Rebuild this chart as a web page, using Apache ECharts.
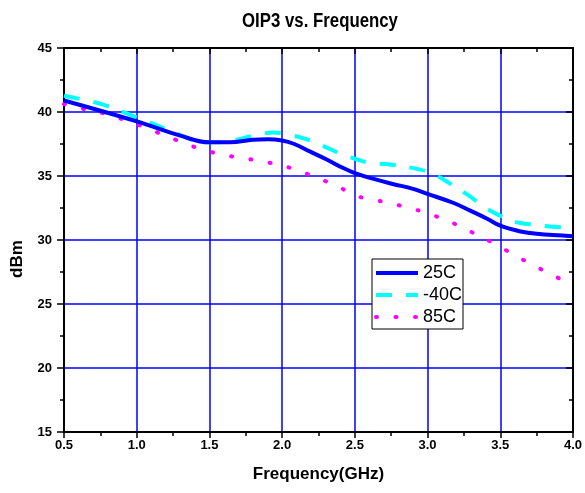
<!DOCTYPE html>
<html>
<head>
<meta charset="utf-8">
<script src="https://cdn.jsdelivr.net/npm/echarts@6/dist/echarts.min.js"></script>
<style>html,body{margin:0;padding:0;background:#fff}#c{width:585px;height:493px}</style>
</head>
<body>
<div id="c"></div>
<script>
var seriesNames = ['25C', '-40C', '85C'];
var freq25 = [0.5, 1.0, 1.3, 1.5, 1.64, 1.8, 1.9, 2.0, 2.08, 2.19, 2.31, 2.42, 2.5, 2.63, 2.76, 2.9, 3.0, 3.18, 3.29, 3.41, 3.5, 3.64, 3.75, 4.0];
var oip25  = [40.9, 39.27, 38.15, 37.63, 37.63, 37.84, 37.88, 37.78, 37.52, 36.92, 36.27, 35.62, 35.23, 34.77, 34.38, 34.0, 33.6, 32.89, 32.31, 31.66, 31.12, 30.67, 30.49, 30.3];
var freqM40 = [0.5, 0.77, 1.0, 1.23, 1.38, 1.49, 1.61, 1.71, 1.83, 1.94, 2.0, 2.06, 2.16, 2.27, 2.39, 2.5, 2.6, 2.74, 2.95, 3.05, 3.17, 3.28, 3.4, 3.5, 3.61, 3.73, 3.84, 4.0];
var oipM40  = [41.27, 40.57, 39.58, 38.54, 37.84, 37.63, 37.63, 37.9, 38.2, 38.4, 38.35, 38.2, 37.9, 37.4, 36.8, 36.35, 36.04, 35.9, 35.5, 35.1, 34.3, 33.5, 32.5, 31.9, 31.4, 31.2, 31.06, 30.95];
var freq85 = [0.5, 0.64, 0.78, 0.91, 1.05, 1.18, 1.31, 1.44, 1.58, 1.71, 1.84, 1.98, 2.11, 2.24, 2.38, 2.51, 2.65, 2.78, 2.91, 3.04, 3.18, 3.31, 3.45, 3.58, 3.71, 3.85, 4.0];
var oip85  = [40.62, 40.23, 39.87, 39.4, 38.83, 38.23, 37.65, 37.11, 36.69, 36.43, 36.19, 35.87, 35.43, 34.86, 34.2, 33.45, 33.1, 32.77, 32.4, 31.93, 31.3, 30.58, 29.77, 28.94, 28.13, 27.32, 26.45];
var xTicks = [0.5, 1.0, 1.5, 2.0, 2.5, 3.0, 3.5, 4.0];
var yTicks = [15, 20, 25, 30, 35, 40, 45];
var titleText = 'OIP3 vs. Frequency';

function pairs(xs, ys) { return xs.map(function (x, i) { return [x, ys[i]]; }); }

var chart = echarts.init(document.getElementById('c'), null, { renderer: 'canvas' });
var gridBlue = '#0000ff';
var boldFont = 'Liberation Sans, Arial, sans-serif';

function xAxisBase(pos, show) {
  return {
    type: 'value', position: pos, min: xTicks[0], max: xTicks[xTicks.length - 1], interval: 0.5,
    axisLine: { show: true, onZero: false, lineStyle: { color: '#000', width: 2 } },
    axisTick: { show: true, inside: pos === 'top', length: 6, lineStyle: { color: '#000', width: 1.5 } },
    minorTick: { show: true, splitNumber: 2, length: 4, lineStyle: { color: '#000', width: 1.5 } },
    axisLabel: { show: show, margin: 7, color: '#000', fontFamily: boldFont, fontWeight: 'bold', fontSize: 13,
      formatter: function (v) { return v.toFixed(1); } },
    splitLine: { show: show, lineStyle: { color: gridBlue, width: 1.5 } },
    name: show ? 'Frequency(GHz)' : '', nameLocation: 'middle', nameGap: 34,
    nameTextStyle: { color: '#000', fontFamily: boldFont, fontWeight: 'bold', fontSize: 17 }
  };
}
function yAxisBase(pos, show) {
  return {
    type: 'value', position: pos, min: yTicks[0], max: yTicks[yTicks.length - 1], interval: 5,
    axisLine: { show: true, onZero: false, lineStyle: { color: '#000', width: 2 } },
    axisTick: { show: true, inside: pos === 'right', length: 7, lineStyle: { color: '#000', width: 1.5 } },
    minorTick: { show: true, splitNumber: 2, length: 4, lineStyle: { color: '#000', width: 1.5 } },
    axisLabel: { show: show, margin: 12, color: '#000', fontFamily: boldFont, fontWeight: 'bold', fontSize: 13 },
    splitLine: { show: show, lineStyle: { color: gridBlue, width: 1.5 } },
    name: show ? 'dBm' : '', nameLocation: 'middle', nameGap: 38,
    nameTextStyle: { color: '#000', fontFamily: boldFont, fontWeight: 'bold', fontSize: 17, padding: [0, 38, 0, 0] }
  };
}

chart.setOption({
  animation: false,
  backgroundColor: '#fff',
  graphic: [{
    type: 'text', x: 320, y: 21, scaleX: 0.84, z: 10,
    style: { text: titleText, fill: '#000', font: 'bold 20px "Liberation Sans", Arial, sans-serif', align: 'center', verticalAlign: 'middle' }
  }],
  grid: { left: 64, right: 12, top: 48, bottom: 61, containLabel: false },
  xAxis: [xAxisBase('bottom', true), xAxisBase('top', false)],
  yAxis: [yAxisBase('left', true), yAxisBase('right', false)],
  legend: {
    orient: 'vertical', left: 372, top: 259,
    data: seriesNames,
    itemWidth: 42, itemHeight: 14, itemGap: 4,
    padding: [5, 1, 3, 2],
    itemStyle: { opacity: 0 },
    lineStyle: { width: 4 },
    backgroundColor: '#fff', borderColor: '#000', borderWidth: 1, borderRadius: 0,
    textStyle: { color: '#000', fontFamily: 'Liberation Sans, Arial, sans-serif', fontSize: 18 }
  },
  series: [
    { name: seriesNames[0], type: 'line', xAxisIndex: 0, yAxisIndex: 0, smooth: 0.4, showSymbol: false, symbol: 'none',
      data: pairs(freq25, oip25), lineStyle: { color: '#0000ff', width: 4 }, itemStyle: { color: '#0000ff' }, z: 5 },
    { name: seriesNames[1], type: 'line', xAxisIndex: 0, yAxisIndex: 0, smooth: 0.4, showSymbol: false, symbol: 'none',
      data: pairs(freqM40, oipM40), lineStyle: { color: '#00ffff', width: 4, type: [16, 14] }, itemStyle: { color: '#00ffff' }, z: 4 },
    { name: seriesNames[2], type: 'line', xAxisIndex: 0, yAxisIndex: 0, smooth: 0.4, showSymbol: false, symbol: 'none',
      data: pairs(freq85, oip85), lineStyle: { color: '#ff00ff', width: 4, type: [1, 18.5], cap: 'round' }, itemStyle: { color: '#ff00ff' }, z: 3 }
  ]
});
</script>
</body>
</html>
